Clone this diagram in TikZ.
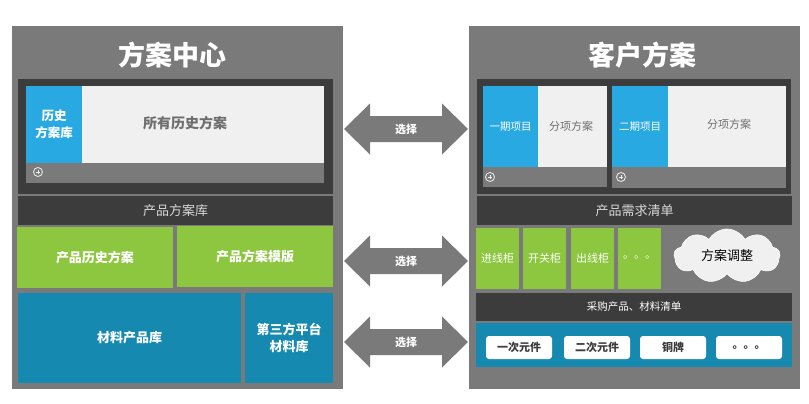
\documentclass[tikz,border=0pt]{standalone}
\usepackage{fontspec}
\setmainfont{Noto Sans CJK SC}
\usetikzlibrary{shapes.symbols}
\definecolor{panelgray}{HTML}{7A7A7A}
\definecolor{darkband}{HTML}{3C3C3C}
\definecolor{lightfill}{HTML}{F0F0F0}
\definecolor{skyblue}{HTML}{29A9E1}
\definecolor{leaf}{HTML}{8DC63F}
\definecolor{teal}{HTML}{1589B0}
\definecolor{softtext}{HTML}{6E6E6E}
\definecolor{bandtext}{HTML}{D8D8D8}
\newcommand\blk[7]{\node[blockbox,#6,minimum width={(#4)-(#2)},minimum height={(#5)-(#3)}] (#1) at ({((#2)+(#4))/2},{((#3)+(#5))/2}) {#7};}
\newcommand\plusicon[3]{\node[circle,draw=lightfill,line width=0.8pt,minimum size=9pt,inner sep=0pt] (#1) at (#2,#3) {};
  \draw[lightfill,line width=0.8pt] (#1.center) ++(-2.2,0) -- ++(4.4,0) (#1.center) ++(0,-2.2) -- ++(0,4.4);}
\newcommand\dblarrow[3]{% name, y center, label
  \fill[panelgray] (344,#2) -- (370,{#2-25.5}) -- (370,{#2-13}) -- (442,{#2-13}) -- (442,{#2-25.5}) -- (468,#2) -- (442,{#2+25.5}) -- (442,{#2+13}) -- (370,{#2+13}) -- (370,{#2+25.5}) -- cycle;
  \node[font=\bfseries\fontsize{11}{12}\selectfont,text=white] (#1) at (406,#2) {#3};}
\begin{document}
\begin{tikzpicture}[x=1pt,y=-1pt,
  blockbox/.style={inner sep=0pt,outer sep=0pt,align=center,anchor=center},
  titletext/.style={font=\bfseries\fontsize{27}{30}\selectfont,text=white},
  whitebold/.style={font=\bfseries\fontsize{13}{17}\selectfont,text=white},
  tiletext/.style={font=\fontsize{11}{13}\selectfont,text=white},
  ]
\useasboundingbox[fill=white] (0,0) rectangle (809,404);
% ---------- left panel ----------
\blk{leftpanel}{12}{26}{343}{389}{fill=panelgray}{}
\node[titletext] (lefttitle) at (172,55) {方案中心};
\blk{lhistframe}{18}{79}{333}{194}{fill=darkband}{}
\blk{lhistlight}{26}{86}{324}{163}{fill=lightfill}{}
\blk{lhistblue}{26}{86}{82}{163}{fill=skyblue,whitebold,font=\bfseries\fontsize{12.5}{17}\selectfont}{历史\\方案库}
\node[font=\bfseries\fontsize{14}{16}\selectfont,text=softtext] (lhisttext) at (185,123) {所有历史方案};
\blk{lhiststrip}{26}{163}{324}{183}{fill=panelgray}{}
\plusicon{lplus}{38}{172}
\blk{lprodband}{18}{196}{333}{225}{fill=darkband,font=\fontsize{13}{15}\selectfont,text=bandtext}{产品方案库}
\blk{lgreen1}{17}{227}{173}{288}{fill=leaf,whitebold}{产品历史方案}
\blk{lgreen2}{177}{226}{333}{287}{fill=leaf,whitebold}{产品方案模版}
\blk{lblue1}{18}{293}{241}{383}{fill=teal,whitebold}{材料产品库}
\blk{lblue2}{245}{293}{333}{383}{fill=teal,whitebold}{第三方平台\\材料库}
% ---------- right panel ----------
\blk{rightpanel}{469}{26}{800}{389}{fill=panelgray}{}
\node[titletext] (righttitle) at (642,55) {客户方案};
\blk{rprojframe}{477}{79}{791}{194}{fill=darkband}{}
% card 1
\blk{rc1light}{483}{86}{607}{167}{fill=lightfill}{}
\blk{rc1blue}{483}{86}{538}{167}{fill=skyblue,font=\fontsize{10.5}{12}\selectfont,text=white}{一期项目}
\node[font=\fontsize{11}{12}\selectfont,text=softtext] (rc1text) at (571,126) {分项方案};
\blk{rc1strip}{483}{167}{607}{187}{fill=panelgray}{}
\plusicon{rplus1}{490}{177}
% card 2
\blk{rc2light}{612}{86}{786}{167}{fill=lightfill}{}
\blk{rc2blue}{612}{86}{668}{167}{fill=skyblue,font=\fontsize{10.5}{12}\selectfont,text=white}{二期项目}
\node[font=\fontsize{11}{12}\selectfont,text=softtext] (rc2text) at (729,124) {分项方案};
\blk{rc2strip}{612}{167}{786}{188}{fill=panelgray}{}
\plusicon{rplus2}{621}{177}
\blk{rneedband}{477}{196}{792}{225}{fill=darkband,font=\fontsize{13}{15}\selectfont,text=bandtext}{产品需求清单}
\blk{rg1}{476}{228}{519}{289}{fill=leaf,tiletext}{进线柜}
\blk{rg2}{523}{228}{566}{289}{fill=leaf,tiletext}{开关柜}
\blk{rg3}{571}{228}{614}{289}{fill=leaf,tiletext}{出线柜}
\blk{rg4}{618}{228}{661}{289}{fill=leaf,tiletext}{\raisebox{3pt}{。。。}}
\node[cloud,cloud puffs=9,cloud puff arc=120,aspect=2,fill=lightfill,draw=white,line width=0.6pt,
      minimum width=106pt,minimum height=54pt,inner sep=0pt,font=\fontsize{13}{15}\selectfont,text=black] (rcloud) at (727,256) {方案调整};
\blk{rbuyband}{476}{293}{792}{321}{fill=darkband,font=\fontsize{10.5}{12}\selectfont,text=white}{采购产品、材料清单}
\blk{rmatband}{476}{323}{792}{367}{fill=teal}{}
\begin{scope}[every node/.append style={rounded corners=3pt,font=\bfseries\fontsize{11}{13}\selectfont,text=darkband}]
\blk{rm1}{486}{336}{552}{359}{fill=white}{一次元件}
\blk{rm2}{564}{336}{630}{359}{fill=white}{二次元件}
\blk{rm3}{640}{336}{706}{359}{fill=white}{铜牌}
\blk{rm4}{716}{336}{782}{359}{fill=white}{。。。}
\end{scope}
% ---------- arrows ----------
\dblarrow{sel1}{129}{选择}
\dblarrow{sel2}{261}{选择}
\dblarrow{sel3}{342}{选择}
\end{tikzpicture}
\end{document}
